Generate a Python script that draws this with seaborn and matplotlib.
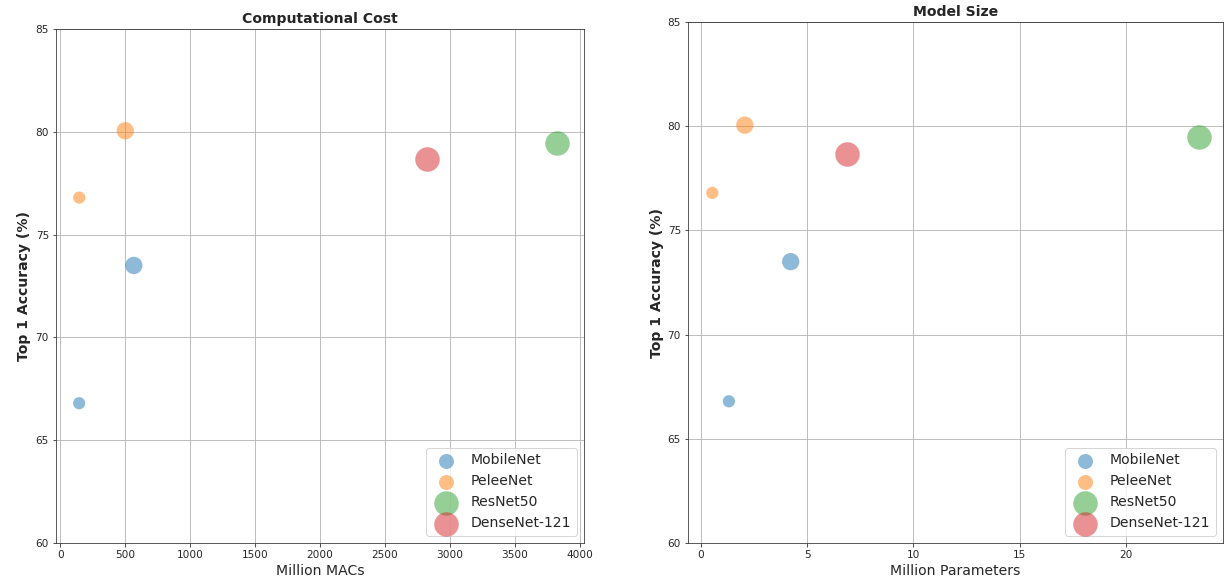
"""
Accuracy vs computational cost / model size
"""
import numpy as np
import pandas as pd
import matplotlib
matplotlib.use("Agg")
import matplotlib.pyplot as plt
import seaborn as sns

# Data
models = ["MobileNet", "MobileNet", "PeleeNet", "PeleeNet", "ResNet50", "DenseNet-121"]
million_macs = [145, 566, 146, 500, 3820, 2823]
million_params = [1.31, 4.22, 0.53, 2.06, 23.43, 6.88]
top1_acc = [66.8, 73.5, 76.8, 80.05, 79.47, 78.66]
y_ticks = [60, 65, 70, 75, 80, 85]

# Style (marker area per point, in pt^2)
marker_area = [150, 300, 150, 300, 600, 600]
model_order = ["MobileNet", "PeleeNet", "ResNet50", "DenseNet-121"]
palette = sns.color_palette("tab10", 4)

sns.set_style("ticks", {"axes.grid": True, "grid.color": "#b8b8b8",
                        "axes.edgecolor": "#333333"})
plt.rcParams["font.family"] = ["DejaVu Sans"]

df = pd.DataFrame({"model": models, "macs": million_macs, "params": million_params,
                   "acc": top1_acc, "area": marker_area})

W, H, DPI = 1225, 588, 72
fig = plt.figure(figsize=(W / DPI, H / DPI), dpi=DPI)
ax1 = fig.add_axes([56 / W, 1 - 543 / H, 528 / W, 514 / H])
ax2 = fig.add_axes([688 / W, 1 - 543 / H, 535 / W, 521 / H])


def draw_panel(ax, x_col, xlabel, title):
    for model, color in zip(model_order, palette):
        sub = df[df["model"] == model]
        sns.scatterplot(x=sub[x_col].values, y=sub["acc"].values, s=sub["area"].values,
                        color=color, alpha=0.5, linewidth=0, label=model, ax=ax)
    ax.set_ylim(60, 85)
    ax.set_yticks(y_ticks)
    ax.grid(True, linewidth=0.9)
    ax.tick_params(labelsize=10.5)
    ax.set_xlabel(xlabel, fontsize=14)
    ax.set_ylabel("Top 1 Accuracy (%)", fontsize=14, fontweight="bold")
    ax.set_title(title, fontsize=14, fontweight="bold")
    ax.legend(loc="lower right", fontsize=14)


draw_panel(ax1, "macs", "Million MACs", "Computational Cost")
draw_panel(ax2, "params", "Million Parameters", "Model Size")
ax1.set_xlim(-33, 4031)

fig.savefig("out.png", dpi=DPI)
